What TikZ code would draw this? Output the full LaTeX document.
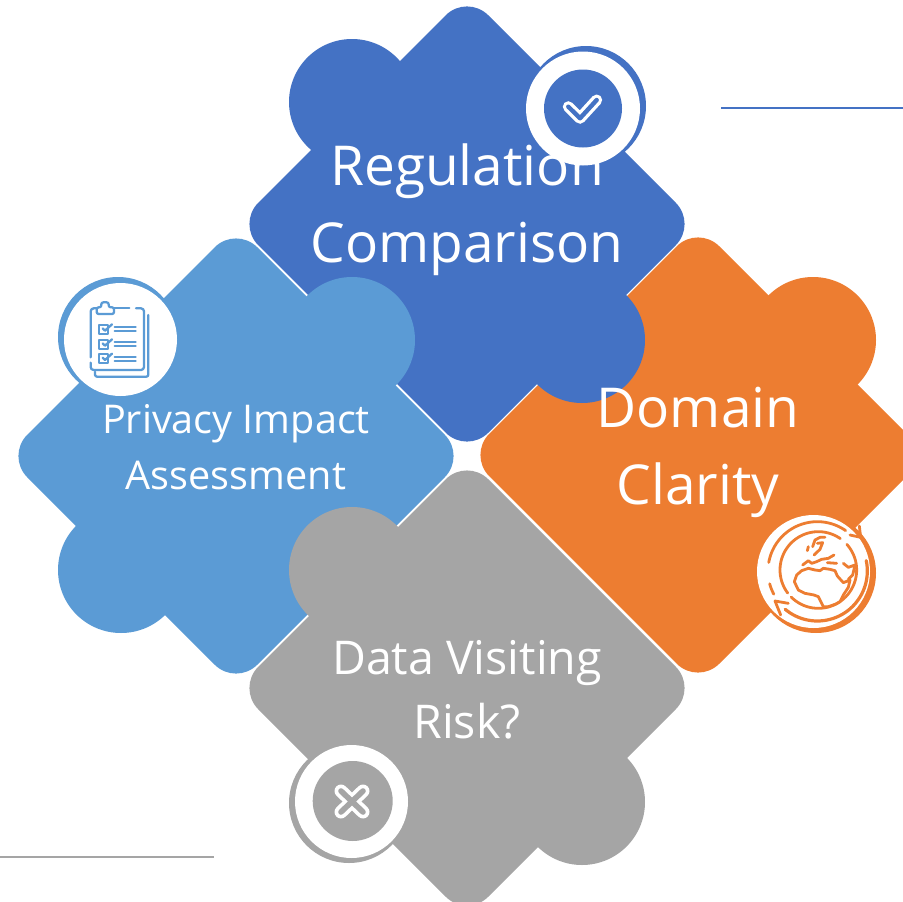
\documentclass[tikz,border=0pt]{standalone}
\usepackage{fontspec}
\setmainfont{Open Sans}
\definecolor{cblue}{HTML}{4472C4}
\definecolor{clight}{HTML}{5B9BD5}
\definecolor{corange}{HTML}{ED7D31}
\definecolor{cgray}{HTML}{A5A5A5}
\newcommand{\puzzlediamond}[3]{\fill[#3,rounded corners=30pt] (#1,#2-230) -- (#1+230,#2) -- (#1,#2+230) -- (#1-230,#2) -- cycle;}
\newcommand{\bump}[3]{\fill[#3] (#1,#2) circle[radius=63pt];}
\newcommand{\parc}[5]{plot[domain=#4:#5,samples=40,smooth] ({#1+#3*cos(\x)},{#2+#3*sin(\x)})}
\tikzset{
  labeltext/.style={text=white,align=center,inner sep=0pt},
  iconline/.style={line width=2.3pt,line cap=round,line join=round},
  globeline/.style={line width=2.8pt,corange,line cap=round,line join=round},
}
\begin{document}
\begin{tikzpicture}[x=1pt,y=-1pt]
\useasboundingbox (0,0) rectangle (903,902);
\clip (0,0) rectangle (903,902);
% rules
\coordinate (ruleAa) at (721,108); \coordinate (ruleAb) at (903,108);
\coordinate (ruleBa) at (0,857); \coordinate (ruleBb) at (214,857);
\draw[cblue,line width=1.2pt] (ruleAa) -- (ruleAb);
\draw[cgray,line width=1.2pt] (ruleBa) -- (ruleBb);
% orange
\puzzlediamond{698}{455}{corange}
\bump{813}{340}{corange}
% blue
\puzzlediamond{467}{224}{cblue}
\bump{352}{102}{cblue}
\bump{582}{340}{cblue}
% light blue
\puzzlediamond{236}{456}{clight}
\bump{352}{340}{clight}
\bump{121}{570}{clight}
% gray
\puzzlediamond{467}{688}{cgray}
\bump{352}{570}{cgray}
\bump{582}{802}{cgray}
% blue badge
\fill[cblue] (586,106) circle[radius=60pt];
\fill[white] (583,108.5) circle[radius=57pt];
\fill[cblue] (583,108.5) circle[radius=39pt];
\draw[white,line width=11pt,line cap=round,line join=round] (568.3,106.7) -- (580,118.3) -- (596.7,100);
\draw[cblue,line width=4.4pt,line cap=round,line join=round] (568.3,106.7) -- (580,118.3) -- (596.7,100);
% light blue badge
\fill[clight] (118,337) circle[radius=60pt];
\fill[white] (120.5,339.5) circle[radius=56.5pt];
\begin{scope}[shift={(40,260)},x=1/3*1pt,y=-1/3*1pt,clight]
  \draw[iconline,rounded corners=3pt] (288,145) -- (312,145) -- (312,330) -- (152,330) -- (152,308);
  \draw[iconline,rounded corners=3pt] (152,292) -- (152,145) -- (170,145);
  \draw[iconline] (222,145) -- (268,145);
  \draw[iconline,rounded corners=2pt] (325,165) -- (325,350) -- (165,350) -- (165,335);
  \draw[iconline,rounded corners=2pt] (170,162) -- (170,142) -- (184,142) -- (184,127) -- (206,127) -- (206,142) -- (222,142) -- (222,162) -- cycle;
  \foreach \yy in {195,240,283}{
    \draw[iconline] (178,\yy) rectangle (205,\yy+27);
    \draw[iconline] (188,\yy+10) -- (195,\yy+17) -- (216,\yy-2);
    \draw[iconline] (224,\yy+7) -- (287,\yy+7);
    \draw[iconline] (224,\yy+19) -- (287,\yy+19);
  }
\end{scope}
% orange badge
\fill[corange] (816,573) circle[radius=60pt];
\fill[white] (813.5,571.5) circle[radius=56.5pt];
\begin{scope}[shift={(740,500)},x=1/3*1pt,y=-1/3*1pt]
  % globe ring
  \draw[globeline] \parc{235}{210}{115}{-42}{135};
  \draw[globeline] \parc{235}{210}{115}{143}{305};
  % outer arcs
  \draw[globeline] \parc{232}{213}{148}{-55}{-170};
  \draw[globeline] \parc{232}{213}{148}{165}{152};
  \draw[globeline,line width=3.2pt] \parc{232}{213}{150}{130}{-12};
  % arrow heads
  \draw[globeline] (330,105) -- (362,112) -- (358,78);
  \draw[globeline] (145,310) -- (105,303) -- (122,345);
  % continents
  \draw[globeline] (163,245) -- (170,225) -- (185,212) -- (205,205) -- (225,210) -- (240,212) -- (250,205) -- (270,208) -- (285,212) -- (292,228) -- (310,248) -- (330,240) -- (325,262) -- (310,285) -- (300,305) -- (288,312) -- (265,320) -- (250,320) -- (240,300) -- (235,290) -- (222,285) -- (195,280) -- (175,270) -- cycle;
  \draw[globeline] (188,195) -- (205,182) -- (215,190) -- (230,185) -- (245,178) -- (265,175) -- (282,165);
  \draw[globeline] (262,188) -- (290,190);
  \draw[globeline] (310,190) -- (325,202) -- (345,195) -- (338,225) -- (325,238);
  \draw[globeline] (218,140) -- (225,120) -- (240,112) -- (255,112);
  \draw[globeline] (232,130) -- (248,128) -- (240,148) -- (222,165);
  \draw[globeline] (205,140) -- (202,152);
\end{scope}
% gray badge
\fill[cgray] (349,803) circle[radius=60pt];
\fill[white] (351.5,801.5) circle[radius=56.5pt];
\fill[cgray] (352.7,801) circle[radius=40pt];
\draw[white,line width=13pt,line cap=round] (341,791) -- (363,812);
\draw[white,line width=13pt,line cap=round] (363,791) -- (341,812);
\draw[cgray,line width=5.6pt,line cap=round] (341,791) -- (363,812);
\draw[cgray,line width=5.6pt,line cap=round] (363,791) -- (341,812);
% texts
\node[labeltext,font=\fontsize{55}{77}\selectfont] (reg) at (467,210) {Regulation\\Comparison};
\node[labeltext,font=\fontsize{55}{77}\selectfont] (dom) at (698,452.5) {Domain\\Clarity};
\node[labeltext,font=\fontsize{39.6}{56}\selectfont] (pia) at (236,447) {Privacy Impact\\Assessment};
\node[labeltext,font=\fontsize{46.5}{64}\selectfont] (dvr) at (467,690) {Data Visiting\\Risk?};
\end{tikzpicture}
\end{document}
